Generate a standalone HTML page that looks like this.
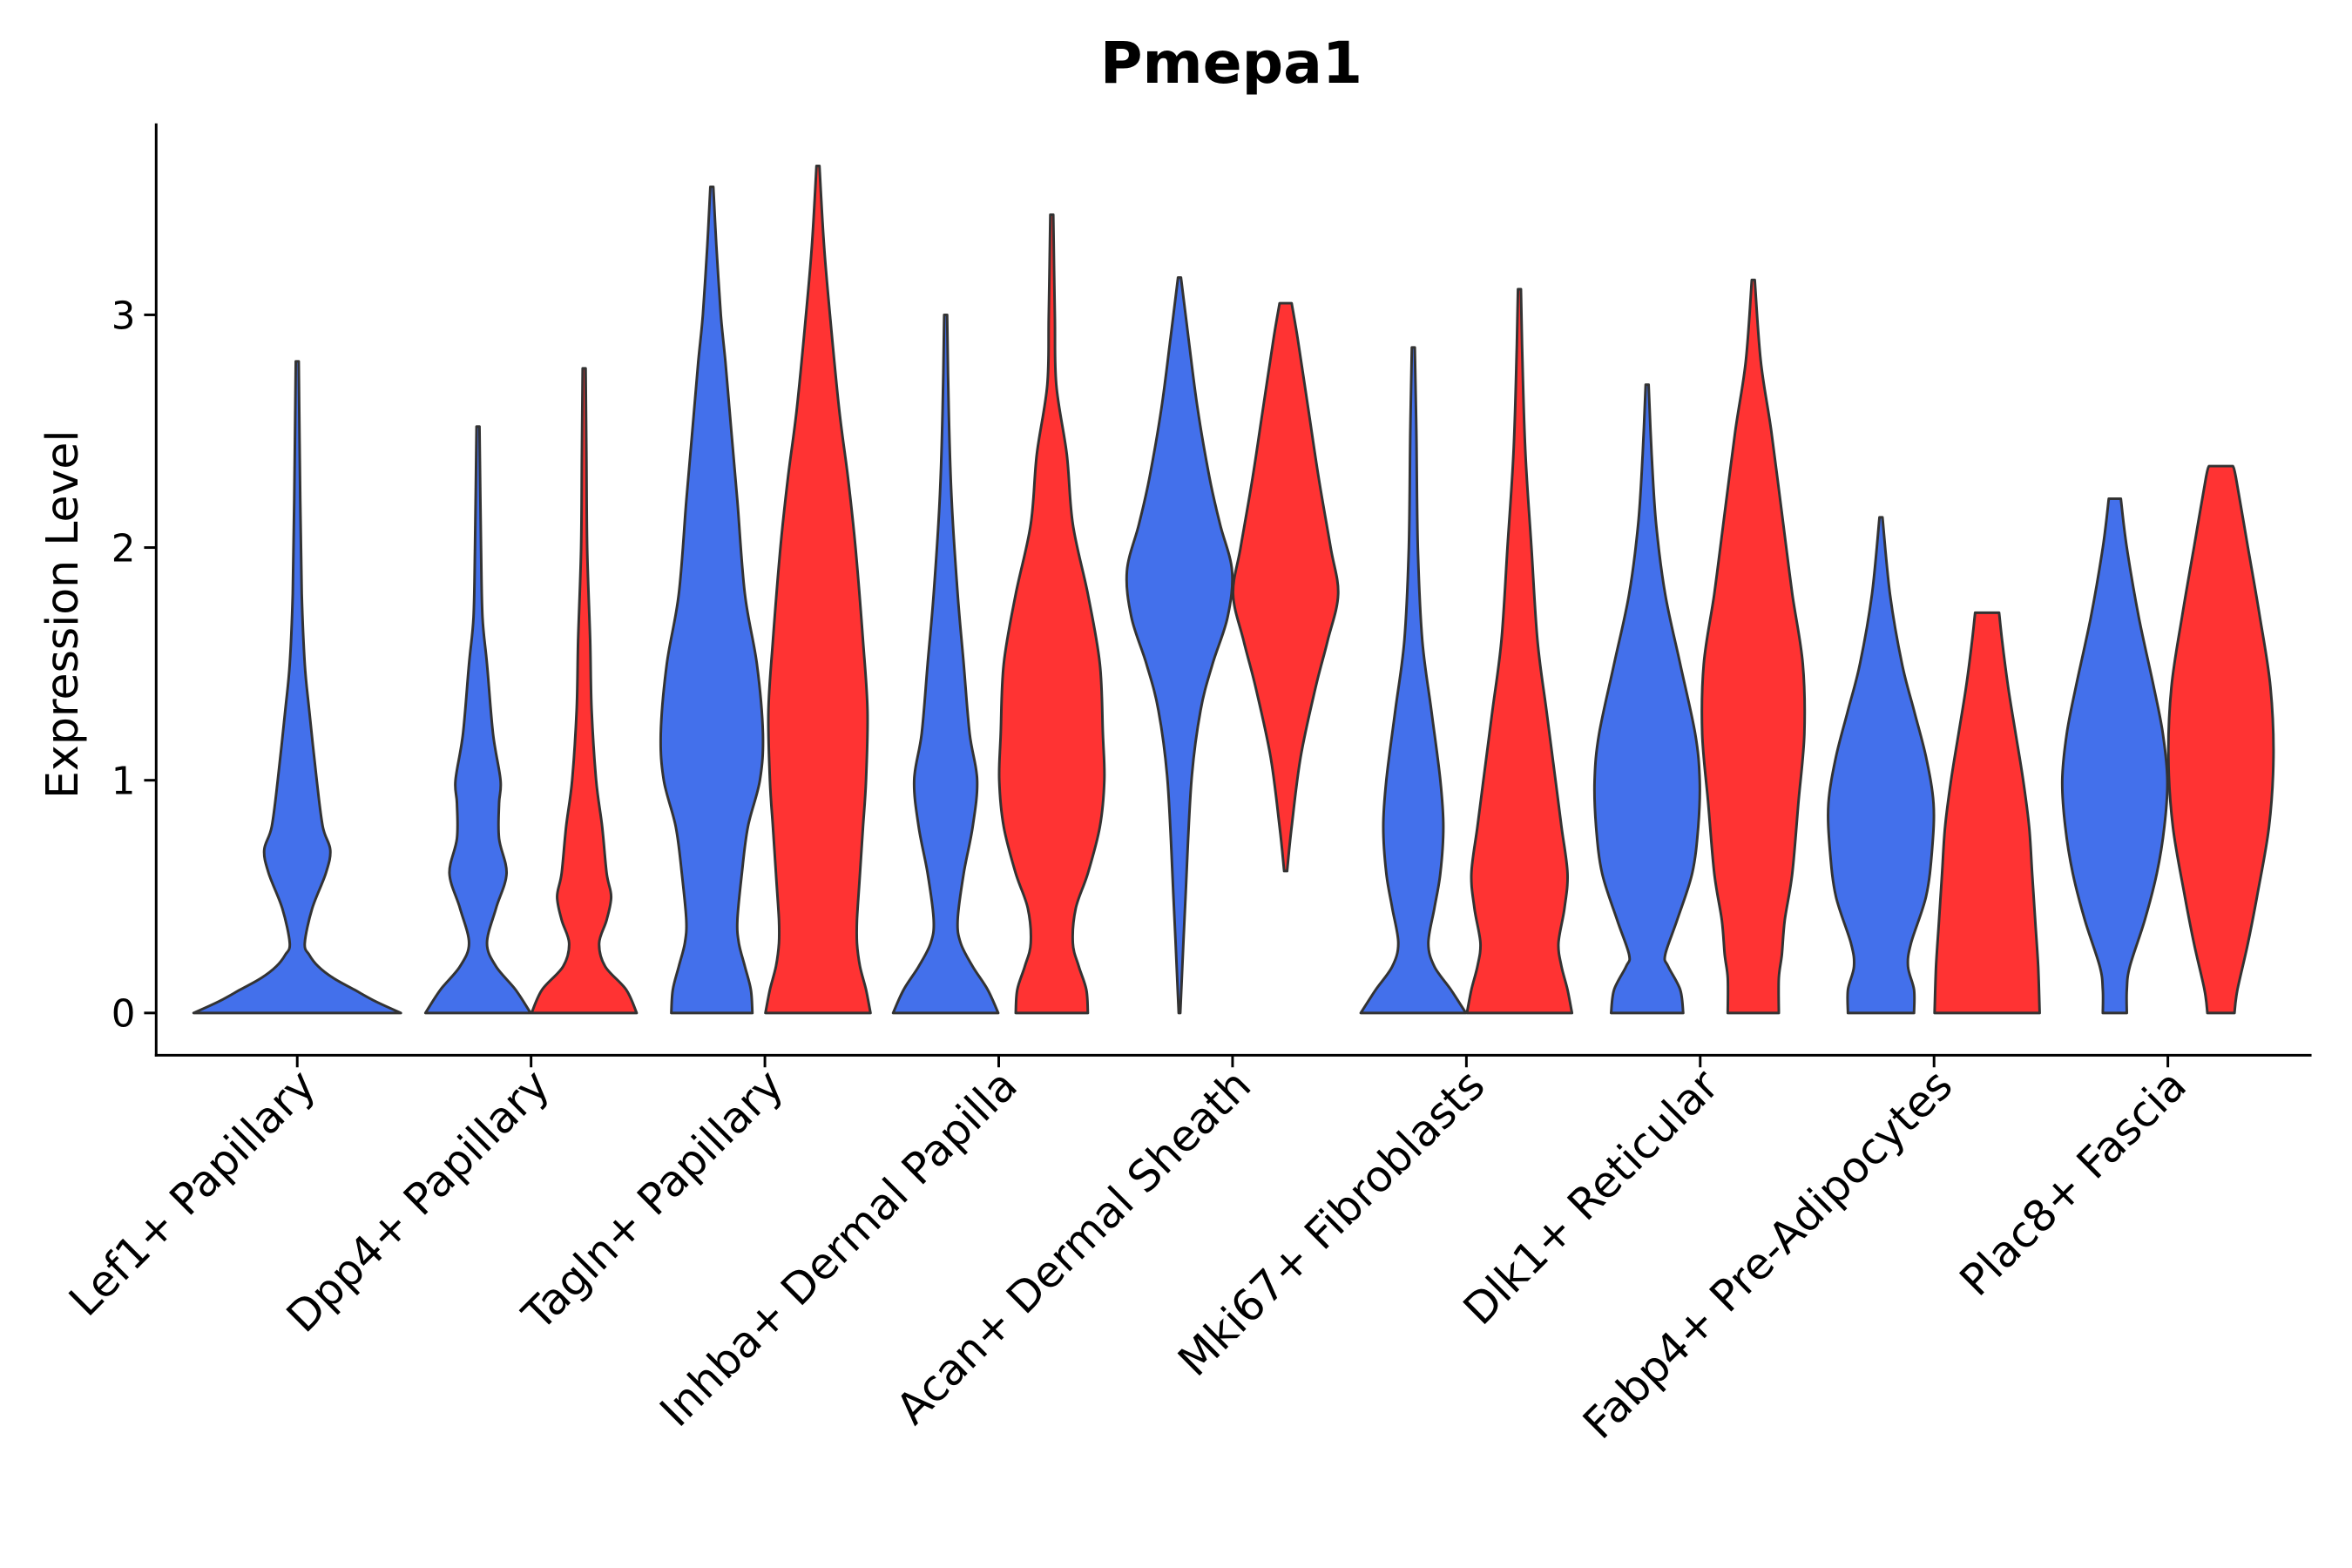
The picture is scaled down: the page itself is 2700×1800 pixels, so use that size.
<!DOCTYPE html>
<html><head><meta charset="utf-8"><style>
html,body{margin:0;padding:0;background:#fff}
svg{display:block}
text{font-family:"DejaVu Sans","Liberation Sans",sans-serif}
</style></head><body>
<svg id="chart" width="2700" height="1800" viewBox="0 0 2700 1800" xmlns="http://www.w3.org/2000/svg">
<g transform="scale(0.9905)">
<text x="1427" y="96" text-anchor="middle" font-size="67" font-weight="bold" fill="#000">Pmepa1</text>
<text transform="translate(90,712) rotate(-90)" text-anchor="middle" font-size="51" fill="#000">Expression Level</text>
<g id="plot"></g>
</g>
</svg>
<script>
const categories = ["Lef1+ Papillary","Dpp4+ Papillary","Tagln+ Papillary","Inhba+ Dermal Papilla","Acan+ Dermal Sheath","Mki67+ Fibroblasts","Dlk1+ Reticular","Fabp4+ Pre-Adipocytes","Plac8+ Fascia"];
const yTicks = [0,1,2,3];
// density profiles: [expression value, relative density]
const blueProfiles = [
 [[0,69],[0.05,52],[0.1,38],[0.15,24],[0.2,14],[0.25,8],[0.3,5],[0.45,10],[0.6,19],[0.7,22],[0.8,17],[1.0,13],[1.3,8],[1.5,5],[1.8,3],[2.2,2],[2.8,1]],
 [[0,35],[0.1,25],[0.2,12],[0.3,6],[0.45,12],[0.6,19],[0.75,14],[0.9,14],[1.0,15],[1.2,10],[1.5,6],[1.7,3],[2.0,2],[2.52,1]],
 [[0,27],[0.1,26],[0.2,22],[0.3,18],[0.4,17],[0.6,20],[0.8,24],[1.0,32],[1.2,34],[1.5,30],[1.8,22],[2.2,17],[2.5,13],[2.8,9],[3.0,6],[3.3,3],[3.55,1]],
 [[0,35],[0.1,28],[0.2,18],[0.3,10],[0.4,8],[0.6,12],[0.8,18],[1.0,21],[1.2,16],[1.5,12],[1.8,8],[2.2,4],[2.6,2],[3.0,1]],
 [[0,0.5],[0.5,4],[1.0,8],[1.3,14],[1.5,22],[1.7,32],[1.9,35],[2.1,27],[2.3,20],[2.6,12],[2.9,6],[3.16,1]],
 [[0,35],[0.1,25],[0.2,14],[0.3,10],[0.45,14],[0.6,18],[0.8,20],[1.0,18],[1.3,12],[1.6,6],[2.0,3],[2.5,2],[2.86,1]],
 [[0,24],[0.1,22],[0.2,14],[0.25,12],[0.4,20],[0.6,30],[0.8,34],[1.0,35],[1.2,32],[1.5,22],[1.8,12],[2.1,6],[2.4,3],[2.7,1]],
 [[0,22],[0.1,22],[0.2,18],[0.3,20],[0.5,30],[0.7,34],[0.9,35],[1.1,30],[1.3,22],[1.5,14],[1.8,6],[2.13,1]],
 [[0,8],[0.1,8],[0.2,10],[0.4,20],[0.6,28],[0.8,33],[1.0,35],[1.2,32],[1.4,26],[1.7,16],[2.0,8],[2.21,4]]
];
const redProfiles = [
 null,
 [[0,35],[0.1,28],[0.2,14],[0.3,10],[0.4,15],[0.5,18],[0.6,15],[0.8,12],[1.0,8],[1.3,5],[1.6,4],[2.0,2],[2.4,1.5],[2.77,1]],
 [[0,35],[0.1,32],[0.2,28],[0.3,26],[0.4,26],[0.6,28],[0.8,30],[1.0,32],[1.3,33],[1.6,30],[2.0,25],[2.3,20],[2.6,14],[3.0,8],[3.3,4],[3.64,1]],
 [[0,24],[0.1,23],[0.2,18],[0.3,14],[0.45,16],[0.6,24],[0.8,32],[1.0,35],[1.2,34],[1.5,32],[1.8,24],[2.1,14],[2.4,10],[2.7,3],[3.0,2],[3.43,1]],
 [[0.61,1],[0.8,4],[1.1,10],[1.4,20],[1.6,28],[1.8,35],[2.0,30],[2.3,22],[2.6,15],[2.9,8],[3.05,4]],
 [[0,35],[0.1,32],[0.2,28],[0.3,26],[0.45,30],[0.6,32],[0.8,28],[1.0,24],[1.3,18],[1.6,12],[2.0,8],[2.4,4],[2.8,2],[3.11,1]],
 [[0,17],[0.15,17],[0.25,19],[0.4,21],[0.6,26],[0.9,30],[1.2,34],[1.5,33],[1.8,26],[2.1,20],[2.5,12],[2.8,5],[3.15,1]],
 [[0,35],[0.2,34],[0.4,32],[0.6,30],[0.8,28],[1.0,24],[1.2,19],[1.4,14],[1.6,10],[1.72,8]],
 [[0,9],[0.1,11],[0.3,18],[0.5,24],[0.8,32],[1.1,35],[1.4,33],[1.7,26],[2.0,18],[2.3,10],[2.35,8]]
];
const NS="http://www.w3.org/2000/svg";
const plot=document.getElementById('plot');
const X0=181, XEND=2679, YAX=1223, YTOP=143;
function yScale(v){return 1174 - v*269.7;}
function xCat(i){return 344.5 + i*271;}
const wScale=1.74;
function mk(tag,attrs){const e=document.createElementNS(NS,tag);for(const k in attrs)e.setAttribute(k,attrs[k]);return e;}
function catmull(pts){
  let d="";
  for(let i=0;i<pts.length-1;i++){
    const p0=pts[Math.max(0,i-1)],p1=pts[i],p2=pts[i+1],p3=pts[Math.min(pts.length-1,i+2)];
    const c1=[p1[0]+(p2[0]-p0[0])/6,p1[1]+(p2[1]-p0[1])/6];
    const c2=[p2[0]-(p3[0]-p1[0])/6,p2[1]-(p3[1]-p1[1])/6];
    d+=` C${c1[0].toFixed(1)},${c1[1].toFixed(1)} ${c2[0].toFixed(1)},${c2[1].toFixed(1)} ${p2[0].toFixed(1)},${p2[1].toFixed(1)}`;
  }
  return d;
}
function violinPath(cx,prof){
  const right=prof.map(p=>[cx+p[1]*wScale,yScale(p[0])]);
  const left=prof.slice().reverse().map(p=>[cx-p[1]*wScale,yScale(p[0])]);
  let d=`M${right[0][0].toFixed(1)},${right[0][1].toFixed(1)}`+catmull(right);
  d+=` L${left[0][0].toFixed(1)},${left[0][1].toFixed(1)}`+catmull(left)+" Z";
  return d;
}
categories.forEach((c,i)=>{
  const bp=blueProfiles[i], rp=redProfiles[i];
  const off = rp ? 61.5 : 0;
  const pb=mk('path',{d:violinPath(xCat(i)-off,bp),fill:'#4370EB',stroke:'#333','stroke-width':3,'stroke-linejoin':'round'});
  
  
  plot.appendChild(pb);
  if(rp){
    const pr=mk('path',{d:violinPath(xCat(i)+off,rp),fill:'#FF3333',stroke:'#333','stroke-width':3,'stroke-linejoin':'round'});
    
    
    plot.appendChild(pr);
  }
  const t=mk('line',{x1:xCat(i),x2:xCat(i),y1:YAX,y2:YAX+14,stroke:'#000','stroke-width':3});
  
  
  plot.appendChild(t);
  const lab=mk('text',{transform:`translate(${xCat(i)+24},${YAX+38}) rotate(-45)`,'text-anchor':'end','font-size':50,fill:'#000'});
  lab.textContent=c;
  
  
  plot.appendChild(lab);
});
yTicks.forEach(v=>{
  const t=mk('line',{x1:X0-14,x2:X0,y1:yScale(v),y2:yScale(v),stroke:'#000','stroke-width':3});
  
  
  plot.appendChild(t);
  const l=mk('text',{x:X0-24,y:yScale(v)+16,'text-anchor':'end','font-size':44,fill:'#000'});
  l.textContent=v;
  
  
  plot.appendChild(l);
});
const ya=mk('line',{x1:X0,x2:X0,y1:YTOP,y2:YAX+1.5,stroke:'#000','stroke-width':3});


plot.appendChild(ya);
const xa=mk('line',{x1:X0-1.5,x2:XEND,y1:YAX,y2:YAX,stroke:'#000','stroke-width':3});


plot.appendChild(xa);
</script>
</body></html>
